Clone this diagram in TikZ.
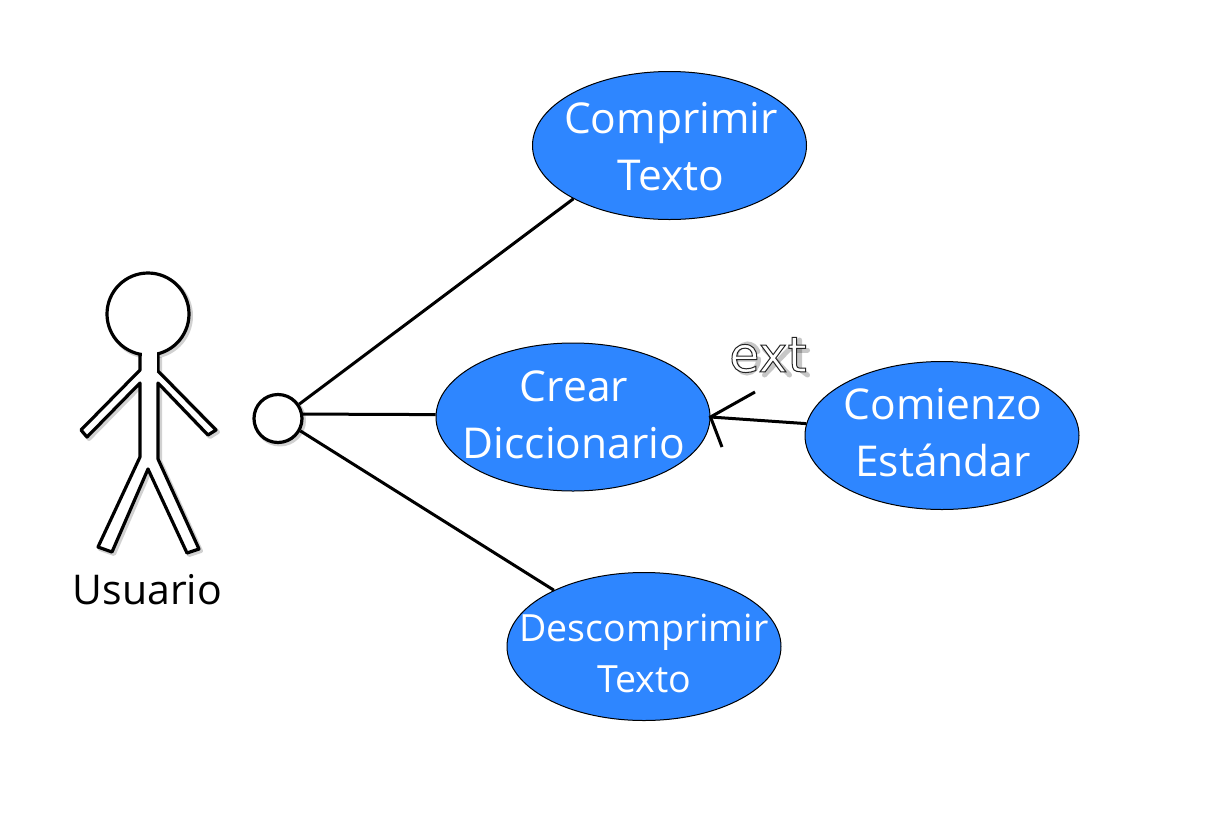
\documentclass[tikz,border=0pt]{standalone}
\usepackage{fontspec}
\setmainfont{Open Sans}
\newfontfamily\extfont{DejaVu Sans}
\usetikzlibrary{shapes.geometric}
\definecolor{ucblue}{RGB}{46,134,255}
\tikzset{
  every picture/.style={x=1pt,y=-1pt},
  usecase/.style={ellipse,draw=black,line width=1pt,fill=ucblue,minimum width=274pt,minimum height=148pt,inner sep=0pt},
  casetext/.style={text=white,inner sep=0pt,align=center,font=\fontsize{42.5}{57}\selectfont},
  casetextsmall/.style={text=white,inner sep=0pt,align=center,font=\fontsize{37.5}{51}\selectfont},
  link/.style={draw=black,line width=3pt},
  figure outline/.style={draw=black,line width=3.2pt,fill=white,line join=round},
  soft/.style={draw=black,opacity=.18,line width=4pt,line join=round},
  softglyph/.style={draw=black,opacity=.22,line width=5pt,line cap=round}
}
\newcommand{\actorpath}{(140,355) -- (140,370) -- (81,430) -- (87,437) -- (140,383) -- (140,457) -- (98,547) -- (112,552) -- (148,469) -- (187,553) -- (199,549) -- (158,459) -- (158,383) -- (208,435) -- (216,430) -- (158,371) -- (158,355)}
\begin{document}
\begin{tikzpicture}
\useasboundingbox (0,0) rectangle (1216,836);
% soft shadows
\draw[soft,shift={(2pt,-2pt)}] \actorpath;
\draw[soft,shift={(2pt,-2pt)}] (148,314) circle[radius=41];
\draw[soft,shift={(2pt,-2pt)}] (278,418.5) circle[radius=24];
% actor
\path[fill=white] \actorpath;
\draw[figure outline] \actorpath;
\node[circle,figure outline,minimum size=82pt,inner sep=0pt] (head) at (148,314) {};
\path[fill=white] (141.5,350) rectangle (156.5,372);
\node[anchor=center,font=\fontsize{41}{48}\selectfont,text=black] (actorname) at (147.5,590) {Usuario};
% use cases
\node[usecase] (compr) at (669.5,145.5) {};
\node[casetext] (comprtext) at (671,147) {Comprimir\\Texto};
\node[usecase] (crear) at (573,417) {};
\node[casetext] (creartext) at (574,415) {Crear\\Diccionario};
\node[usecase] (comien) at (942,435.5) {};
\node[casetext] (comientext) at (943,433) {Comienzo\\Estándar};
\node[usecase] (descomp) at (644,646.5) {};
\node[casetextsmall] (descomptext) at (644,653) {Descomprimir\\Texto};
\node[circle,figure outline,minimum size=48pt,inner sep=0pt] (port) at (278,418.5) {};
% connectors
\draw[link] (port.34) -- (compr.209.5);
\draw[link] (port.10) -- (crear.179.2);
\draw[link] (port.-29) -- (descomp.148);
\draw[link] (comien.175) -- (crear.0);
\coordinate (barbA) at (755,392);
\coordinate (barbB) at (722,447);
\draw[link,line join=miter] (barbA) -- (crear.0) -- (barbB);
% ext label: drawn shadow, then outlined text
\begin{scope}[shift={(2.5pt,-3pt)}]
  \draw[softglyph] (756,356) -- (733,356) arc[start angle=180,end angle=360,x radius=11.5,y radius=-14] ;
  \draw[softglyph] (733,356) arc[start angle=180,end angle=330,x radius=12,y radius=15];
  \draw[softglyph] (762,346) -- (787,372);
  \draw[softglyph] (787,346) -- (762,372);
  \draw[softglyph] (797,337) -- (797,366) -- (805,372);
  \draw[softglyph] (791,347) -- (805,347);
\end{scope}
\node[font=\extfont\fontsize{49}{50}\selectfont] (extlabel) at (768,355) {\special{pdf:code q 2 Tr 1 w 0.15 0.15 0.15 RG 1 1 1 rg}ext\special{pdf:code Q}};
\end{tikzpicture}
\end{document}
